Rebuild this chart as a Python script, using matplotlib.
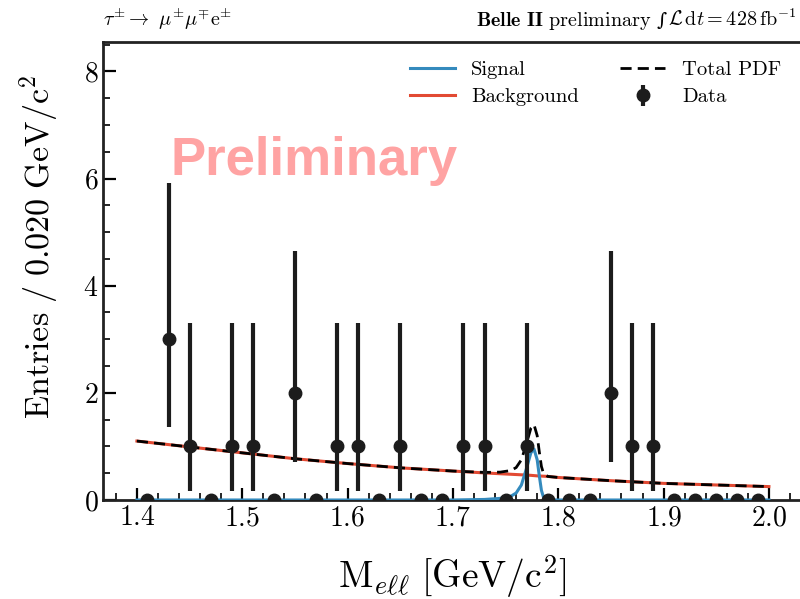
import numpy as np
import matplotlib
matplotlib.use("Agg")
import matplotlib.pyplot as plt
from matplotlib.ticker import MultipleLocator

plt.rcParams['font.family'] = 'serif'
plt.rcParams['font.serif'] = ['cmr10']
plt.rcParams['mathtext.fontset'] = 'cm'
plt.rcParams['axes.formatter.use_mathtext'] = True
plt.rcParams['axes.unicode_minus'] = False

# binned data, 0.020 GeV bins from 1.40 to 2.00
bin_centers = [1.41, 1.43, 1.45, 1.47, 1.49, 1.51, 1.53, 1.55, 1.57, 1.59,
               1.61, 1.63, 1.65, 1.67, 1.69, 1.71, 1.73, 1.75, 1.77, 1.79,
               1.81, 1.83, 1.85, 1.87, 1.89, 1.91, 1.93, 1.95, 1.97, 1.99]
counts = [0, 3, 1, 0, 1, 1, 0, 2, 0, 1,
          1, 0, 1, 0, 0, 1, 1, 0, 1, 0,
          0, 0, 2, 1, 1, 0, 0, 0, 0, 0]
# poisson error bars (down, up), per count
poisson_err = {0: (0.0, 0.0), 1: (0.83, 2.30), 2: (1.29, 2.64), 3: (1.63, 2.92)}

# fit curves
x_curve = [1.40, 1.45, 1.50, 1.55, 1.60, 1.65, 1.70, 1.73, 1.745, 1.755,
           1.760, 1.765, 1.770, 1.774, 1.777, 1.780, 1.782, 1.784, 1.786, 1.790,
           1.80, 1.85, 1.90, 1.95, 2.00]
bkg_curve = [1.10, 0.99, 0.88, 0.77, 0.68, 0.60, 0.54, 0.505, 0.49, 0.48,
             0.475, 0.47, 0.465, 0.46, 0.455, 0.45, 0.448, 0.446, 0.444, 0.44,
             0.42, 0.36, 0.31, 0.28, 0.25]
sig_curve = [0.0, 0.0, 0.0, 0.0, 0.0, 0.0, 0.0, 0.01, 0.03, 0.07,
             0.13, 0.28, 0.60, 0.88, 0.95, 0.75, 0.45, 0.18, 0.05, 0.0,
             0.0, 0.0, 0.0, 0.0, 0.0]

fig = plt.figure(figsize=(8, 5.99), dpi=100)
ax = fig.add_axes([0.129, 0.1653, 0.873, 0.7647])

sig_col = '#348ABD'
bkg_col = '#E24A33'
dat_col = '#1c1c1c'

x_curve = np.array(x_curve)
bkg = np.array(bkg_curve)
sig = np.array(sig_curve)

l_bkg, = ax.plot(x_curve, bkg, color=bkg_col, lw=2.2, zorder=2, label='Background')
l_sig, = ax.plot(x_curve, sig, color=sig_col, lw=2.2, zorder=3, label='Signal')
l_tot, = ax.plot(x_curve, bkg + sig, color='black', lw=2.0, ls=(0, (4, 2.2)), zorder=4,
                 label='Total PDF')

yerr_lo = [poisson_err[c][0] for c in counts]
yerr_hi = [poisson_err[c][1] for c in counts]
eb = ax.errorbar(bin_centers, counts, yerr=[yerr_lo, yerr_hi], fmt='o', color=dat_col,
                 ms=9, elinewidth=3, capsize=0, zorder=5, label='Data')

ax.set_xlim(1.368, 2.031)
ax.set_ylim(0, 8.55)
ax.xaxis.set_major_locator(MultipleLocator(0.1))
ax.xaxis.set_minor_locator(MultipleLocator(0.02))
ax.yaxis.set_major_locator(MultipleLocator(2))
ax.yaxis.set_minor_locator(MultipleLocator(0.5))
ax.tick_params(which='both', direction='in', top=False, right=False, labelsize=20)
ax.tick_params(which='major', length=9, width=1.6)
ax.tick_params(which='minor', length=5, width=1.2)
for s in ax.spines.values():
    s.set_linewidth(2.0)
    s.set_color('#222222')

ax.set_xlabel(r'$\mathrm{M}_{e\ell\ell}\ [\mathrm{GeV/c^2}]$', fontsize=27, labelpad=16)
ax.set_ylabel(r'$\mathrm{Entries\ /\ 0.020\ GeV/c^2}$', fontsize=24.5)
ax.yaxis.set_label_coords(-0.061, 0.552)

ax.legend(handles=[l_sig, l_bkg, l_tot, eb], ncol=2, frameon=False, fontsize=14.8,
          loc='upper right', bbox_to_anchor=(0.997, 1.0), columnspacing=2.0,
          handlelength=2.2, labelspacing=0.45)

ax.text(0.0, 1.035, r'$\tau^{\pm}\rightarrow\ \mu^{\pm}\mu^{\mp}\mathrm{e}^{\pm}$',
        transform=ax.transAxes, ha='left', va='baseline', fontsize=14.5)

# right-hand header built from pieces so the integral sign stays small
t_lumi = ax.text(0.993, 1.035, r'$\mathcal{L}\,\mathrm{d}t=428\,\mathrm{fb}^{\mathrm{-1}}$',
                 transform=ax.transAxes, ha='right', va='baseline', fontsize=14.5)
fig.canvas.draw()
x_left = ax.transAxes.inverted().transform((t_lumi.get_window_extent().x0 - 2, 0))[0]
t_int = ax.text(x_left, 1.035, '∫', transform=ax.transAxes, ha='right', va='baseline',
                fontsize=14, family='DejaVu Serif', fontstyle='italic')
fig.canvas.draw()
x_left = ax.transAxes.inverted().transform((t_int.get_window_extent().x0 - 5, 0))[0]
ax.text(x_left, 1.035, r'$\mathbf{Belle\ II}$ preliminary', transform=ax.transAxes,
        ha='right', va='baseline', fontsize=14.5)

ax.text(0.096, 0.71, 'Preliminary', transform=ax.transAxes, ha='left', va='baseline',
        fontsize=38, fontweight='bold', family='Liberation Sans', color='#ffa3a3', zorder=1)

fig.savefig('out.png', dpi=100)
